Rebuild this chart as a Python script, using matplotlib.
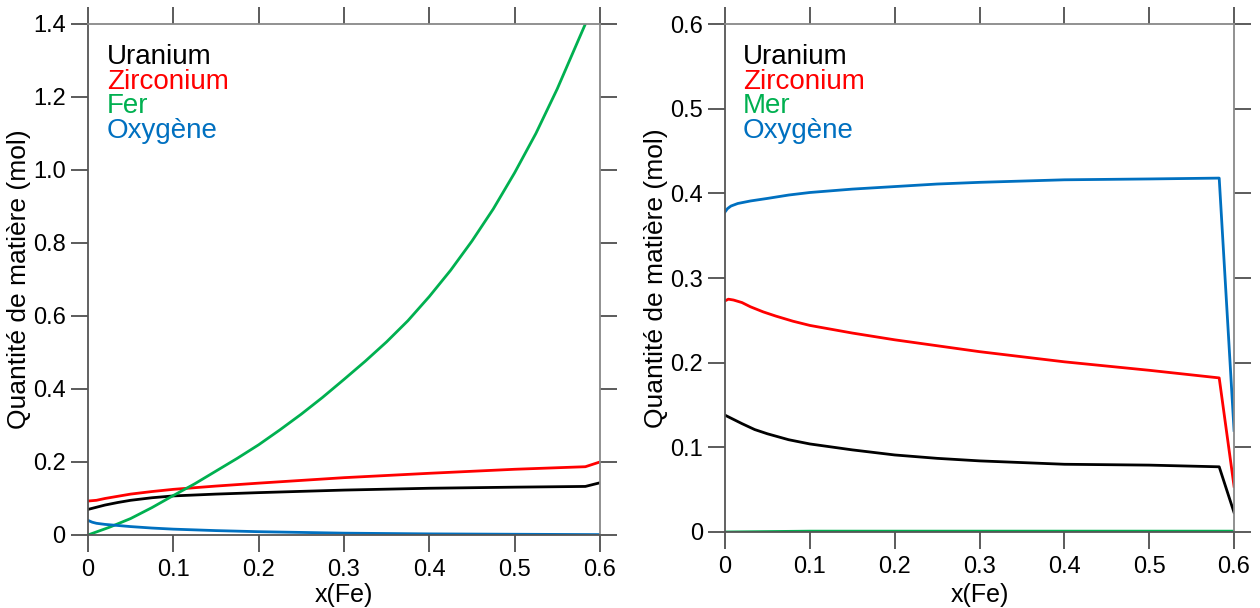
import matplotlib.pyplot as plt
import numpy as np
from matplotlib.ticker import MultipleLocator, FuncFormatter

plt.rcParams['font.family'] = ['Liberation Sans', 'DejaVu Sans']

# ---- left panel: x(Fe) vs quantity (mol)
xl_u = [0, 0.01, 0.02, 0.035, 0.05, 0.075, 0.1, 0.15, 0.2, 0.3, 0.4, 0.5, 0.583, 0.6]
yl_u = [0.070, 0.076, 0.082, 0.089, 0.095, 0.102, 0.107, 0.112, 0.116, 0.123, 0.128, 0.131, 0.133, 0.143]

xl_zr = [0, 0.01, 0.02, 0.035, 0.05, 0.075, 0.1, 0.15, 0.2, 0.3, 0.4, 0.5, 0.583, 0.6]
yl_zr = [0.093, 0.095, 0.100, 0.106, 0.112, 0.119, 0.125, 0.134, 0.142, 0.157, 0.169, 0.180, 0.187, 0.200]

xl_fe = [0, 0.025, 0.05, 0.075, 0.1, 0.125, 0.15, 0.175, 0.2, 0.225, 0.25, 0.275, 0.3,
         0.325, 0.35, 0.375, 0.4, 0.425, 0.45, 0.475, 0.5, 0.525, 0.55, 0.575, 0.583, 0.6]
yl_fe = [0, 0.021, 0.045, 0.075, 0.108, 0.140, 0.175, 0.210, 0.247, 0.288, 0.331, 0.377, 0.426,
         0.476, 0.529, 0.587, 0.653, 0.725, 0.805, 0.893, 0.992, 1.100, 1.222, 1.357, 1.40, 1.50]

xl_o = [0, 0.005, 0.01, 0.02, 0.03, 0.05, 0.075, 0.1, 0.15, 0.2, 0.3, 0.4, 0.5, 0.6]
yl_o = [0.040, 0.035, 0.032, 0.029, 0.027, 0.023, 0.019, 0.016, 0.012, 0.009, 0.005, 0.003, 0.002, 0.001]

# ---- right panel
xr_u = [0, 0.01, 0.02, 0.035, 0.05, 0.075, 0.1, 0.15, 0.2, 0.25, 0.3, 0.35, 0.4, 0.5, 0.5825, 0.6]
yr_u = [0.138, 0.133, 0.128, 0.121, 0.116, 0.109, 0.104, 0.097, 0.091, 0.087, 0.084, 0.082,
        0.080, 0.079, 0.077, 0.023]

xr_zr = [0, 0.004, 0.01, 0.02, 0.03, 0.045, 0.06, 0.08, 0.1, 0.15, 0.2, 0.3, 0.4, 0.5, 0.5825, 0.6]
yr_zr = [0.273, 0.275, 0.274, 0.271, 0.266, 0.260, 0.255, 0.249, 0.244, 0.235, 0.227, 0.213,
         0.201, 0.191, 0.182, 0.054]

xr_m = [0, 0.1, 0.2, 0.3, 0.4, 0.5, 0.6]
yr_m = [0.0, 0.001, 0.001, 0.001, 0.001, 0.001, 0.001]

xr_o = [0, 0.003, 0.007, 0.015, 0.03, 0.05, 0.075, 0.1, 0.15, 0.2, 0.25, 0.3, 0.4, 0.5, 0.5825, 0.6]
yr_o = [0.378, 0.382, 0.385, 0.388, 0.391, 0.394, 0.398, 0.401, 0.405, 0.408, 0.411, 0.413,
        0.416, 0.417, 0.418, 0.120]

black = '#000000'
red = '#ff0000'
green = '#00b050'
blue = '#0070c0'

fig = plt.figure(figsize=(12.6, 6.08), dpi=100)
ax1 = fig.add_axes([0.0698, 0.1201, 0.4063, 0.8405])
ax2 = fig.add_axes([0.5754, 0.1250, 0.4040, 0.8355])

fmt = FuncFormatter(lambda v, p: '0' if abs(v) < 1e-9 else '%.1f' % v)


def style(ax, ymax, ystep):
    ax.set_xlim(0, 0.6)
    ax.set_ylim(0, ymax)
    ax.xaxis.set_major_locator(MultipleLocator(0.1))
    ax.yaxis.set_major_locator(MultipleLocator(ystep))
    ax.xaxis.set_major_formatter(fmt)
    ax.yaxis.set_major_formatter(fmt)
    ax.tick_params(direction='out', length=12, width=1.2, color='#404040',
                   labelsize=17, top=True, right=True)
    ax.tick_params(axis='y', pad=4)
    ax.tick_params(axis='x', pad=5)
    for s in ['left', 'bottom']:
        ax.spines[s].set_color('#555555')
        ax.spines[s].set_linewidth(1.3)
    for s in ['top', 'right']:
        ax.spines[s].set_color('#888888')
        ax.spines[s].set_linewidth(1.3)
    ax.set_xlabel('x(Fe)', fontsize=18)
    ax.set_ylabel('Quantité de matière (mol)', fontsize=19)


lw = 2
ax1.plot(xl_u, yl_u, color=black, lw=lw)
ax1.plot(xl_zr, yl_zr, color=red, lw=lw)
ax1.plot(xl_fe, yl_fe, color=green, lw=lw)
ax1.plot(xl_o, yl_o, color=blue, lw=lw)
style(ax1, 1.4, 0.2)
ax1.yaxis.set_label_coords(-0.135, 0.5)
ax1.xaxis.set_label_coords(0.5, -0.117)

ax2.plot(xr_m, yr_m, color=green, lw=lw)
ax2.plot(xr_u, yr_u, color=black, lw=lw)
ax2.plot(xr_zr, yr_zr, color=red, lw=lw)
ax2.plot(xr_o, yr_o, color=blue, lw=lw)
style(ax2, 0.6, 0.1)
ax2.yaxis.set_label_coords(-0.136, 0.5)
ax2.xaxis.set_label_coords(0.5, -0.124)
for ax in (ax1, ax2):
    ax.xaxis.label.set_va('center')
    ax.yaxis.label.set_va('center')

names_l = ['Uranium', 'Zirconium', 'Fer', 'Oxygène']
names_r = ['Uranium', 'Zirconium', 'Mer', 'Oxygène']
cols = [black, red, green, blue]
base_l = [0.921, 0.873, 0.826, 0.777]
base_r = [0.921, 0.873, 0.825, 0.776]
for n, c, b in zip(names_l, cols, base_l):
    ax1.text(0.037, b, n, color=c, fontsize=20, va='baseline', transform=ax1.transAxes)
for n, c, b in zip(names_r, cols, base_r):
    ax2.text(0.035, b, n, color=c, fontsize=20, va='baseline', transform=ax2.transAxes)

fig.savefig('out.png', dpi=100)
